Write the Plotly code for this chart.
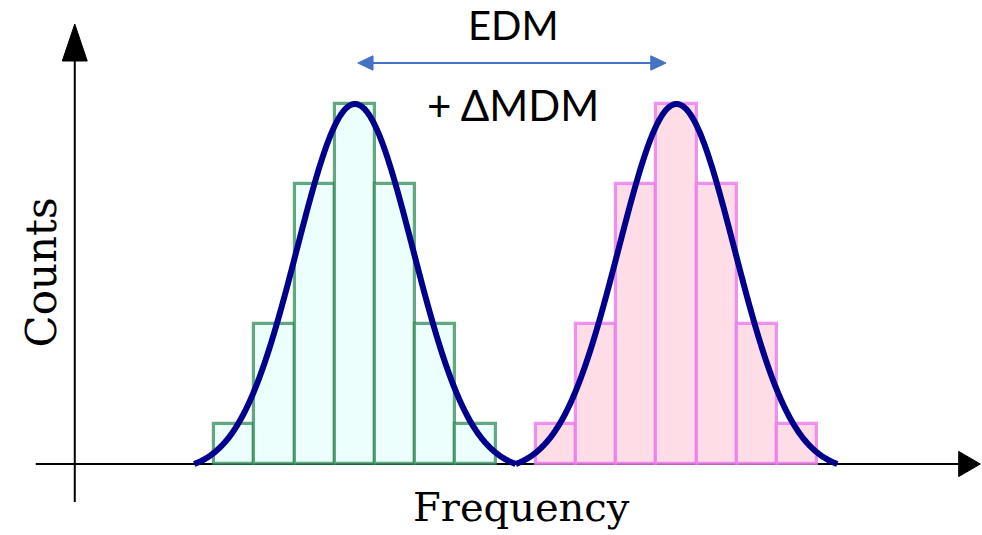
import numpy as np
import plotly.graph_objects as go

# Histogram data: two peaks, one bin apart, same shape
bins_edm = [-3, -2, -1, 0, 1, 2, 3]
counts_edm = [2, 7, 14, 18, 14, 7, 2]
bins_mdm = [5, 6, 7, 8, 9, 10, 11]
counts_mdm = [2, 7, 14, 18, 14, 7, 2]

# Fitted line-shape parameters (mean, width, peak height, half support)
fit_means = [0.0, 8.0]
fit_sigma = 1.44
fit_amp = 18.0
fit_half_span = 4.0

# Layout constants (data units)
X_RANGE = [-8.83, 15.6]
Y_RANGE = [-3.55, 23.2]
YAXIS_X = -6.97


def fit_curve(mu):
    x = np.linspace(mu - fit_half_span, mu + fit_half_span, 400)
    g = np.exp(-((x - mu) ** 2) / (2 * fit_sigma ** 2))
    g0 = np.exp(-(fit_half_span ** 2) / (2 * fit_sigma ** 2))
    return x, fit_amp * (g - g0) / (1 - g0)


fig = go.Figure()

fig.add_trace(go.Bar(
    x=bins_edm, y=counts_edm, width=1.0,
    marker=dict(color="rgb(236,255,252)",
                line=dict(color="rgba(40,135,80,0.72)", width=3.2)),
    showlegend=False,
))
fig.add_trace(go.Bar(
    x=bins_mdm, y=counts_mdm, width=1.0,
    marker=dict(color="rgb(255,221,230)",
                line=dict(color="rgba(236,120,236,0.8)", width=3.2)),
    showlegend=False,
))

for mu in fit_means:
    cx, cy = fit_curve(mu)
    fig.add_trace(go.Scatter(
        x=cx, y=cy, mode="lines",
        line=dict(color="rgb(0,0,140)", width=6, shape="spline"),
        showlegend=False, hoverinfo="skip",
    ))

shapes = []
# x axis with arrow
shapes.append(dict(type="line", xref="x", yref="y", x0=-7.94, x1=15.1, y0=0, y1=0,
                   line=dict(color="black", width=2), layer="below"))
shapes.append(dict(type="path", xref="x", yref="y",
                   path="M 15.56 0 L 15.02 0.63 L 15.02 -0.63 Z",
                   fillcolor="black", line=dict(color="black", width=1)))
# y axis with arrow
shapes.append(dict(type="line", xref="x", yref="y", x0=YAXIS_X, x1=YAXIS_X, y0=-1.9, y1=20.3,
                   line=dict(color="black", width=2), layer="below"))
shapes.append(dict(type="path", xref="x", yref="y",
                   path=f"M {YAXIS_X} 22.0 L {YAXIS_X - 0.31} 20.15 L {YAXIS_X + 0.31} 20.15 Z",
                   fillcolor="black", line=dict(color="black", width=1)))

# double-headed separation arrow
ax0, ax1, ay = 0.07, 7.74, 20.05
head_len, head_half = 0.38, 0.36
blue = "#4472C4"
shapes.append(dict(type="line", xref="x", yref="y", x0=ax0 + 0.2, x1=ax1 - 0.2, y0=ay, y1=ay,
                   line=dict(color=blue, width=2)))
shapes.append(dict(type="path", xref="x", yref="y",
                   path=f"M {ax0} {ay} L {ax0 + head_len} {ay + head_half} L {ax0 + head_len} {ay - head_half} Z",
                   fillcolor=blue, line=dict(color=blue, width=1)))
shapes.append(dict(type="path", xref="x", yref="y",
                   path=f"M {ax1} {ay} L {ax1 - head_len} {ay + head_half} L {ax1 - head_len} {ay - head_half} Z",
                   fillcolor=blue, line=dict(color=blue, width=1)))

annotations = [
    dict(text="EDM", x=3.95, y=21.95, xref="x", yref="y", showarrow=False,
         font=dict(family="Lato", size=40, color="black"), xanchor="center", yanchor="middle"),
    dict(text="+ ΔMDM", x=3.92, y=17.95, xref="x", yref="y", showarrow=False,
         font=dict(family="Lato", size=42, color="black"), xanchor="center", yanchor="middle"),
    dict(text="Frequency", x=4.15, y=-2.15, xref="x", yref="y", showarrow=False,
         font=dict(family="DejaVu Serif", size=40, color="black"), xanchor="center", yanchor="middle"),
    dict(text="Counts", x=-7.8, y=9.6, xref="x", yref="y", showarrow=False, textangle=-90,
         font=dict(family="DejaVu Serif", size=42, color="black"), xanchor="center", yanchor="middle"),
]

fig.update_layout(
    width=982, height=535,
    margin=dict(l=0, r=0, t=0, b=0),
    paper_bgcolor="white", plot_bgcolor="white",
    bargap=0, barmode="overlay",
    xaxis=dict(range=X_RANGE, visible=False, fixedrange=True),
    yaxis=dict(range=Y_RANGE, visible=False, fixedrange=True),
    shapes=shapes, annotations=annotations,
)

fig.write_html("out.html")
